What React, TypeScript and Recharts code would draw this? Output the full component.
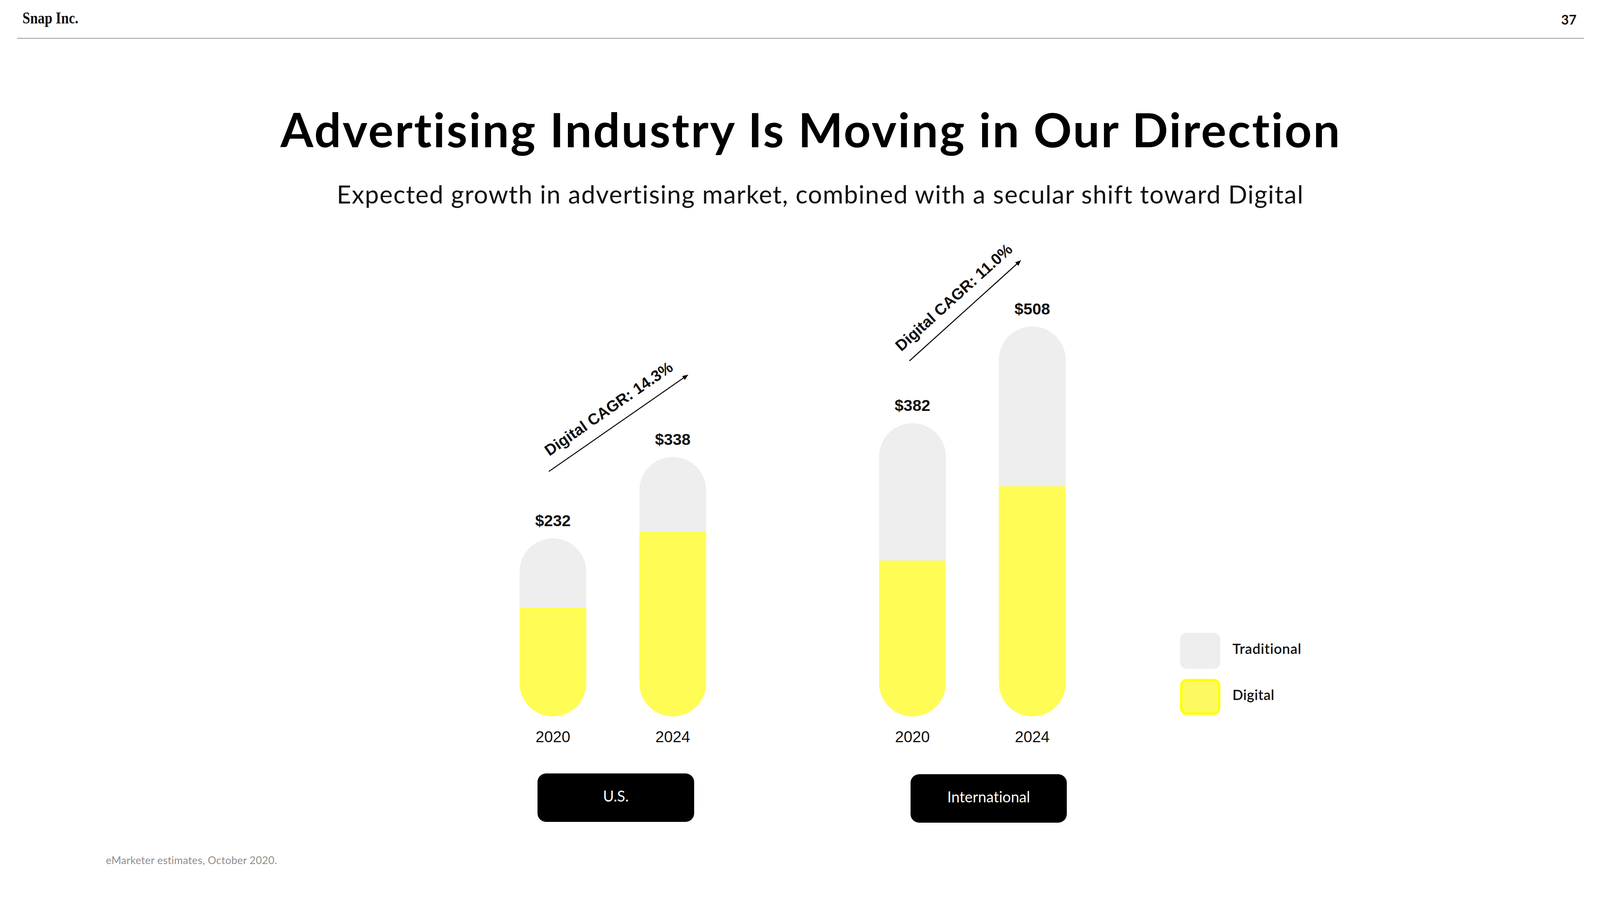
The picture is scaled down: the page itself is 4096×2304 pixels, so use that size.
import React from 'react';
import { BarChart, Bar, XAxis, YAxis, LabelList } from 'recharts';

// chart data (US$ billions)
const slots = ['us-2020', 'us-2024', 'gap', 'intl-2020', 'intl-2024'];
const years = ['2020', '2024', '', '2020', '2024'];
const digital = [142, 241, null, 203, 300];
const traditional = [90, 97, null, 179, 208];
const totals = [232, 338, null, 382, 508];
const regions = ['U.S.', 'International'];
const cagrLabels = ['Digital CAGR: 14.3%', 'Digital CAGR: 11.0%'];
const legendItems = ['Traditional', 'Digital'];

const YELLOW = '#FFFC55';
const GREY = '#EEEEEE';
const SANS = 'Lato, "Open Sans", sans-serif';
const ARIAL = '"Liberation Sans", Arial, sans-serif';
const noLig = { fontVariantLigatures: 'none' as const, fontFeatureSettings: '"liga" 0, "clig" 0' };

const data = slots.map((slot, i) => ({
  slot,
  digital: digital[i],
  traditional: traditional[i],
  total: totals[i],
}));

const BAR = 171;

function YearTick(props: any) {
  const { x, y, payload } = props;
  const label = years[slots.indexOf(payload.value)];
  if (!label) return null;
  return (
    <text x={x} y={y + 66} textAnchor="middle" fontFamily={ARIAL} fontSize={40} fill="#111">
      {label}
    </text>
  );
}

function TotalLabel(props: any) {
  const { x, y, width, value } = props;
  if (value == null) return null;
  return (
    <text
      x={Number(x) + Number(width) / 2}
      y={Number(y) - 31}
      textAnchor="middle"
      fontFamily={ARIAL}
      fontWeight="bold"
      fontSize={41}
      fill="#111"
    >
      ${value}
    </text>
  );
}

function CagrArrow({ x1, y1, x2, y2, label, along }: any) {
  const dx = x2 - x1;
  const dy = y2 - y1;
  const len = Math.hypot(dx, dy);
  const ux = dx / len;
  const uy = dy / len;
  const nx = uy;
  const ny = -ux;
  const head = 15;
  const half = 6;
  const bx = x2 - ux * head;
  const by = y2 - uy * head;
  const ox = x1 + ux * along + nx * 31;
  const oy = y1 + uy * along + ny * 31;
  const angle = (Math.atan2(dy, dx) * 180) / Math.PI;
  return (
    <g>
      <line x1={x1} y1={y1} x2={bx} y2={by} stroke="#000" strokeWidth={2.5} />
      <polygon
        points={`${x2},${y2} ${bx + nx * half},${by + ny * half} ${bx - nx * half},${by - ny * half}`}
        fill="#000"
      />
      <text
        x={ox}
        y={oy}
        transform={`rotate(${angle} ${ox} ${oy})`}
        fontFamily={ARIAL}
        fontWeight="bold"
        fontSize={40}
        fill="#111"
      >
        {label}
      </text>
    </g>
  );
}

export default function App() {
  return (
    <div
      style={{
        position: 'absolute',
        left: 0,
        top: 0,
        width: 4096,
        height: 2304,
        background: '#fff',
        overflow: 'hidden',
      }}
    >
      <div style={{ position: 'absolute', left: 0, top: 0 }}>
        <BarChart
          width={4096}
          height={2304}
          data={data}
          margin={{ top: 655, right: 1300, bottom: 410, left: 1262 }}
        >
          <XAxis
            dataKey="slot"
            height={60}
            axisLine={false}
            tickLine={false}
            tickSize={0}
            tickMargin={0}
            interval={0}
            tick={<YearTick />}
          />
          <YAxis hide domain={[0, 600]} />
          <Bar
            dataKey="digital"
            stackId="a"
            fill={YELLOW}
            barSize={BAR}
            radius={[0, 0, BAR / 2, BAR / 2]}
            isAnimationActive={false}
          />
          <Bar
            dataKey="traditional"
            stackId="a"
            fill={GREY}
            barSize={BAR}
            radius={[BAR / 2, BAR / 2, 0, 0]}
            isAnimationActive={false}
          >
            <LabelList dataKey="total" content={<TotalLabel />} />
          </Bar>
        </BarChart>
      </div>

      <svg
        width={4096}
        height={2304}
        style={{ position: 'absolute', left: 0, top: 0, pointerEvents: 'none', ...noLig }}
      >
        {/* header */}
        <text
          x={57.6}
          y={60}
          fontFamily='"Liberation Serif", "Times New Roman", serif'
          fontWeight="bold"
          fontSize={42}
          textLength={143}
          lengthAdjust="spacingAndGlyphs"
          fill="#111"
        >
          Snap Inc.
        </text>
        <text x={4036} y={63} textAnchor="end" fontFamily={SANS} fontWeight="bold" fontSize={34} fill="#111">
          37
        </text>
        <line x1={44} x2={4055} y1={98} y2={98} stroke="#9b9b9b" strokeWidth={2} />

        {/* titles */}
        <text x={718} y={377} fontFamily={SANS} fontWeight="bold" fontSize={121} textLength={2712} fill="#000">
          Advertising Industry Is Moving in Our Direction
        </text>
        <text x={862} y={521} fontFamily={SANS} fontSize={64} textLength={2474} fill="#111">
          Expected growth in advertising market, combined with a secular shift toward Digital
        </text>

        {/* CAGR annotations */}
        <CagrArrow x1={1405} y1={1207} x2={1762} y2={959} label={cagrLabels[0]} along={23} />
        <CagrArrow x1={2328} y1={924} x2={2614} y2={666} label={cagrLabels[1]} along={0} />

        {/* region tags */}
        <rect x={1376} y={1980} width={401} height={124} rx={22} fill="#000" />
        <text x={1576.5} y={2052} textAnchor="middle" fontFamily={SANS} fontSize={38} fill="#fff">
          {regions[0]}
        </text>
        <rect x={2331} y={1982} width={400} height={124} rx={22} fill="#000" />
        <text x={2531} y={2054} textAnchor="middle" fontFamily={SANS} fontSize={38} fill="#fff">
          {regions[1]}
        </text>

        {/* legend */}
        <rect x={3021} y={1620} width={103} height={92} rx={16} fill={GREY} />
        <rect x={3024} y={1741} width={97} height={86} rx={14} fill="#FCFA60" stroke="#FFFF00" strokeWidth={6} />
        <text x={3155} y={1674} fontFamily={SANS} fontWeight={600} fontSize={36} textLength={176} fill="#111">
          {legendItems[0]}
        </text>
        <text x={3155} y={1792} fontFamily={SANS} fontWeight={600} fontSize={36} textLength={107} fill="#111">
          {legendItems[1]}
        </text>

        {/* source */}
        <text x={271} y={2212} fontFamily={SANS} fontSize={27} textLength={438} fill="#8e8e8e">
          eMarketer estimates, October 2020.
        </text>
      </svg>
    </div>
  );
}
